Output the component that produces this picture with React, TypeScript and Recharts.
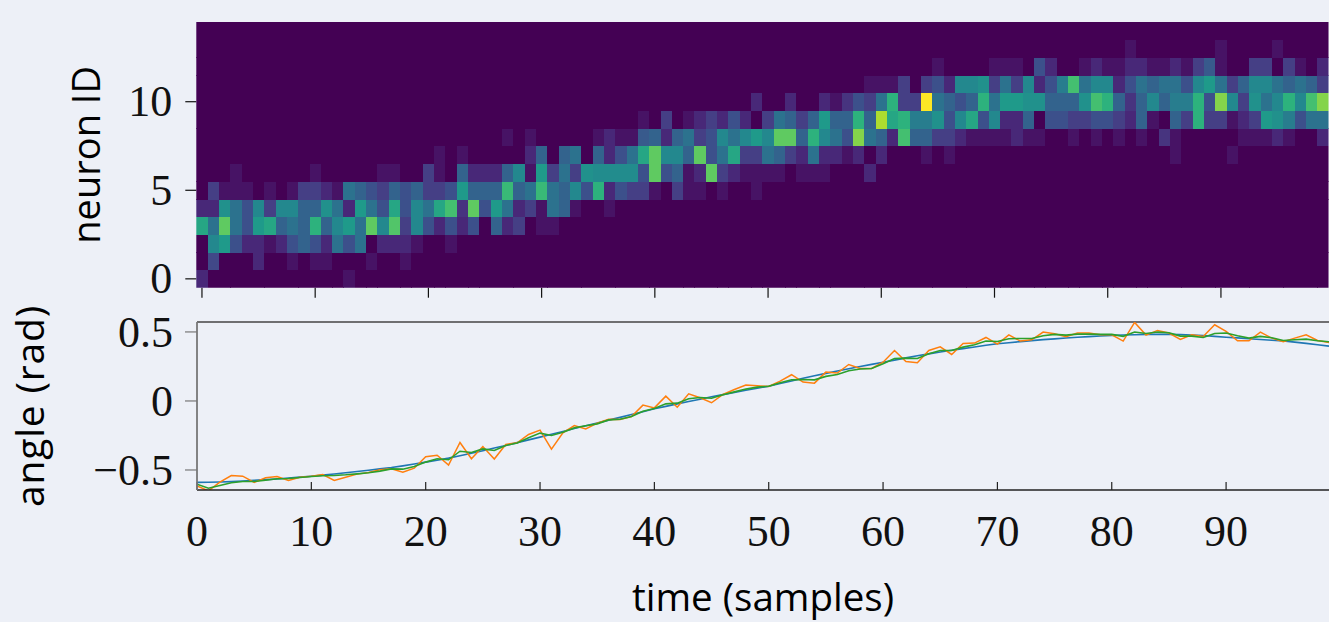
import React from 'react';
import { ScatterChart, Scatter, LineChart, Line, XAxis, YAxis, ReferenceLine } from 'recharts';

const Z10 = [0, 0, 0, 0, 0, 0, 0, 0, 0, 0];

const row0 = [2,0,0,0,0,0,0,0,0,0, 0,0,0,1,0,0,0,0,0,0, ...Z10, ...Z10, ...Z10, ...Z10, ...Z10, ...Z10, ...Z10, ...Z10];
const row1 = [0,3.5,0,0,0,2,0,0,1,0, 1,1,0,0,0,1,0,0,1,0, ...Z10, ...Z10, ...Z10, ...Z10, ...Z10, ...Z10, ...Z10, ...Z10];
const row2 = [0,7,8,4,2,2,1,2,4,5, 4,2,6,4,6,0,2,2,2,1, 0,0,1,0,0,0,0,0,0,0, ...Z10, ...Z10, ...Z10, ...Z10, ...Z10, ...Z10, ...Z10];
const row3 = [8.5,6,11,6,4,8,8.5,5,6,5, 9,5,7,8,6,11,7,10.5,3,7, 4,2,4,2,4,0,5,2,3,0, 1,1,0,0,0,0,0,0,0,0, ...Z10, ...Z10, ...Z10, ...Z10, ...Z10, ...Z10];
const row4 = [2,2,7.5,6,4,7,3,7,7,5, 5,7.5,6,2,8,6,4,8.5,4,7, 6,8.5,10,2.5,11,4,8,6,2,3, 1,6,5,1,0,0,1,0,0,0, ...Z10, ...Z10, ...Z10, ...Z10, ...Z10, ...Z10];
const row5 = [0,3,1,1,1,0,1,0,1,3, 3,2,1,6,5,4,3,5,4,5, 3,3,4,8,5,5,5,9.5,5,6, 9.5,6,5,7,4,9,2,4,3,3, 1,0,3,1,1,0,1,0,0,1, ...Z10, ...Z10, ...Z10, ...Z10, ...Z10];
const row6 = [0,0,0,1,0,0,0,0,0,0, 1,0,0,0,0,0,1,1,0,0, 3,1,0,5,2,2,2,5,7,1, 8,3,6,3,7.5,7.2,7.2,7.2,7.2,4, 11,4,5,1,2,11,3,2,1,1, 1,1,0,1,1,1,0,0,0,2, ...Z10, ...Z10, ...Z10, ...Z10];
const row7 = [...Z10, ...Z10, 0,1,0,1,0,0,0,0,0,2, 5,0,5,6,0,5,2,4,6,8.5, 11,7,7,5,11,4,6,8.5,3,3, 6,5,3,2,6,2,2,1,2,0, 2,0,0,0,1,0,1,0,0,0, ...Z10, 0,0,0,0,0,0,1,0,0,0, 0,1,0,0,0,0,0,0,0,0];
const row8 = [...Z10, ...Z10, 0,0,0,0,0,0,0,1,0,1, 0,0,0,0,0,1,2,1,1,4.5, 5,2,5,6,3,4,7,6,7,8, 7,11,11,5,9,7,6,4,12,6, 5,2,10,5,5,3,3,2,1,1, 1,1,2,1,1,0,0,1,0,1, 0,1,0,1,0,2.5,1,0,0,0, 0,0,1,1,1,2,1,0,0,2];
const row9 = [...Z10, ...Z10, ...Z10, 0,0,0,0,0,0,0,0,0,1, 0,3,0,1,2,3,2,4,2,0, 3,6,5,3,5,8,5,5,9,5, 13,8.5,9,6.5,6.5,7.5,4,7,8.5,4, 7,2,2,5,0,4,4,3,3,4, 4,3,2,5,1,0,5,3,9,3, 3,1,2,3,8,7.5,6.5,4,6,6];
const row10 = [...Z10, ...Z10, ...Z10, ...Z10, 0,0,0,0,0,0,0,0,0,2, 0,0,2,0,0,2,1,2.5,4,3, 6,9,3,3,15,6,5,4,5,9, 6,8,8,7.5,7.5,5,5,5,7.5,10, 9,5,2.5,5,7,5,6.5,6.5,9,4, 12,7,3,7.5,6,7,9,7,10,12];
const row11 = [...Z10, ...Z10, ...Z10, ...Z10, ...Z10, 0,0,0,0,0,0,0,0,0,1, 1,1,3,0,3,4,2,7,7,7.5, 3,6,3,7,2,4,6.5,10,6,7, 7,2,4,6,5,6,6,4,7,8, 6,3,5,7,7,6,5,6,5,3];
const row12 = [...Z10, ...Z10, ...Z10, ...Z10, ...Z10, ...Z10, 0,0,0,0,0,1,0,0,0,0, 1,1,1,0,4,2,0,0,1,2, 1,1,2,2,1,1,2,1,3,4.5, 1,0,0,3,3,0,3,1,0,2];
const row13 = [...Z10, ...Z10, ...Z10, ...Z10, ...Z10, ...Z10, ...Z10, ...Z10, 0,0,1,0,0,0,0,0,0,0, 1,0,0,0,0,1,0,0,0,0];
const row14 = [...Z10, ...Z10, ...Z10, ...Z10, ...Z10, ...Z10, ...Z10, ...Z10, ...Z10, ...Z10];
const heatRows = [row0,row1,row2,row3,row4,row5,row6,row7,row8,row9,row10,row11,row12,row13,row14];

const trueAngle = [
-.590,-.589,-.587,-.584,-.580,-.575,-.570,-.565,-.559,-.552,
-.545,-.537,-.529,-.520,-.511,-.502,-.492,-.482,-.470,-.457,
-.443,-.429,-.414,-.397,-.379,-.360,-.341,-.322,-.302,-.282,
-.262,-.241,-.221,-.200,-.180,-.160,-.139,-.119,-.098,-.078,
-.057,-.039,-.021,-.004,.013,.030,.046,.061,.077,.092,
.107,.126,.145,.164,.182,.200,.217,.233,.249,.265,
.281,.296,.312,.327,.341,.355,.367,.379,.391,.403,
.414,.422,.430,.437,.444,.450,.456,.461,.466,.471,
.475,.478,.480,.482,.483,.482,.481,.478,.474,.468,
.462,.457,.451,.445,.440,.435,.426,.417,.407,.397];
const noisyAngle = [
-.615,-.651,-.588,-.540,-.545,-.590,-.557,-.547,-.576,-.552,
-.545,-.533,-.576,-.552,-.530,-.518,-.499,-.492,-.516,-.487,
-.404,-.393,-.465,-.301,-.419,-.330,-.421,-.315,-.303,-.243,
-.211,-.349,-.231,-.178,-.202,-.161,-.132,-.134,-.113,-.030,
-.050,.035,-.045,.052,.023,-.013,.047,.083,.115,.110,
.105,.144,.190,.137,.129,.209,.202,.264,.235,.235,
.281,.366,.286,.277,.366,.392,.337,.417,.419,.460,
.412,.479,.434,.443,.499,.487,.465,.492,.492,.479,
.479,.434,.569,.477,.511,.492,.446,.479,.467,.552,
.504,.436,.436,.499,.455,.429,.455,.479,.438,.424];
const smoothAngle = [
-.603,-.632,-.612,-.593,-.583,-.583,-.574,-.564,-.562,-.554,
-.547,-.542,-.540,-.535,-.528,-.520,-.508,-.492,-.494,-.475,
-.443,-.419,-.426,-.364,-.373,-.347,-.359,-.322,-.305,-.267,
-.233,-.250,-.226,-.195,-.180,-.166,-.137,-.132,-.113,-.074,
-.055,-.021,-.016,.016,.025,.020,.045,.066,.086,.100,
.107,.132,.153,.156,.153,.178,.192,.219,.231,.235,
.269,.308,.310,.308,.342,.366,.366,.390,.407,.434,
.431,.451,.453,.453,.472,.482,.477,.484,.484,.482,
.482,.468,.499,.489,.499,.494,.470,.470,.460,.489,
.492,.472,.455,.468,.458,.438,.443,.448,.436,.429];

const viridis = ['#440154','#471365','#482878','#453f85','#3c508b','#33638d','#2c728e','#23888e','#1f9a8a','#2db27d','#44bf70','#5fca61','#84d44b','#addc30','#d8e219','#fde725'];
const heatXTicks = [0,10,20,30,40,50,60,70,80,90];
const heatYTicks = [0,5,10];
const angleTicks = [-0.5,0,0.5];

const W = 1329;
const H = 622;
const BG = '#EDF0F7';
const SERIF = '"Liberation Serif", serif';
const SANS = '"Open Sans", sans-serif';
const HEAT_LEFT = 196.3;
const HEAT_RIGHT = 0.5;
const HEAT_TOP = 22;
const HEAT_BOTTOM = 287.7;
const HEAT_H = 314;
const CELL_W = (W - HEAT_LEFT - HEAT_RIGHT) / 100;
const CELL_H = (HEAT_BOTTOM - HEAT_TOP) / 15;

const lerpHex = (a: string, b: string, f: number) => {
  const p = (s: string, i: number) => parseInt(s.slice(i, i + 2), 16);
  const c = [1, 3, 5].map((i) => Math.round(p(a, i) + (p(b, i) - p(a, i)) * f));
  return `rgb(${c.join(',')})`;
};
const colorOf = (v: number) => {
  const i = Math.floor(v);
  if (i >= viridis.length - 1) return viridis[viridis.length - 1];
  return lerpHex(viridis[i], viridis[i + 1], v - i);
};

const heatCells = heatRows.flatMap((r, y) => r.map((level, x) => ({ x, y, level })));
const angleData = trueAngle.map((a, t) => ({ t, a, n: noisyAngle[t], s: smoothAngle[t] }));

const HeatCell = (p: any) => (
  <rect
    x={p.cx - CELL_W / 2}
    y={p.cy - CELL_H / 2}
    width={CELL_W + 0.5}
    height={CELL_H + 0.5}
    fill={colorOf(p.payload.level)}
    shapeRendering="crispEdges"
  />
);

const numTick = { fontFamily: SERIF, fontSize: 44, fill: '#111' };
const yNumTick = { ...numTick, dy: -1 };
const minusFmt = (v: number) => (v < 0 ? `\u2212${Math.abs(v)}` : `${v}`);

export default function App() {
  return (
    <div style={{ position: 'absolute', left: 0, top: 0, width: W, height: H, background: BG, overflow: 'hidden' }}>
      <div style={{ position: 'absolute', left: 0, top: 0 }}>
        <ScatterChart width={W} height={HEAT_H} margin={{ top: HEAT_TOP, right: HEAT_RIGHT, left: 0, bottom: 0 }}>
          <XAxis
            type="number"
            dataKey="x"
            domain={[-0.5, 99.5]}
            ticks={heatXTicks}
            interval={0}
            height={HEAT_H - HEAT_BOTTOM}
            axisLine={false}
            tickSize={10}
            tickLine={{ stroke: '#111', strokeWidth: 1.2 }}
            tickFormatter={() => ''}
            allowDataOverflow
          />
          <YAxis
            type="number"
            dataKey="y"
            domain={[-0.5, 14.5]}
            ticks={heatYTicks}
            interval={0}
            width={HEAT_LEFT}
            axisLine={false}
            tickSize={11}
            tickMargin={13}
            tickLine={{ stroke: '#111', strokeWidth: 1.2 }}
            tick={yNumTick}
            allowDataOverflow
            label={{ value: 'neuron ID', angle: -90, position: 'center', dx: -12, style: { fontFamily: SANS, fontSize: 38, fill: '#000' } }}
          />
          <Scatter data={heatCells} shape={HeatCell} isAnimationActive={false} />
        </ScatterChart>
      </div>
      <div style={{ position: 'absolute', left: 0, top: 300 }}>
        <LineChart width={W} height={322} data={angleData} margin={{ top: 22, right: 0, left: 0, bottom: 0 }}>
          <XAxis
            type="number"
            dataKey="t"
            domain={[0, 99]}
            ticks={heatXTicks}
            interval={0}
            height={132}
            axisLine={{ stroke: '#222', strokeWidth: 1.4 }}
            tickSize={-8}
            tickMargin={33}
            tickLine={{ stroke: '#222', strokeWidth: 1.2 }}
            tick={numTick}
            allowDataOverflow
            label={{ value: 'time (samples)', position: 'insideBottom', offset: 11, style: { fontFamily: SANS, fontSize: 38.5, fill: '#000' } }}
          />
          <YAxis
            type="number"
            domain={[-0.645, 0.572]}
            ticks={angleTicks}
            interval={0}
            width={197}
            axisLine={{ stroke: '#777', strokeWidth: 1.8 }}
            tickSize={12}
            tickMargin={12}
            tickLine={{ stroke: '#777', strokeWidth: 1.2 }}
            tick={yNumTick}
            tickFormatter={minusFmt}
            allowDataOverflow
            label={{ value: 'angle (rad)', angle: -90, position: 'center', dx: -68, style: { fontFamily: SANS, fontSize: 39, letterSpacing: 0.8, fill: '#000' } }}
          />
          <ReferenceLine y={0.572} stroke="#444" strokeWidth={1.4} />
          <Line dataKey="a" stroke="#1f77b4" strokeWidth={1.6} dot={false} isAnimationActive={false} />
          <Line dataKey="n" stroke="#ff7f0e" strokeWidth={1.5} dot={false} isAnimationActive={false} />
          <Line dataKey="s" stroke="#2ca02c" strokeWidth={1.6} dot={false} isAnimationActive={false} />
        </LineChart>
      </div>
    </div>
  );
}
